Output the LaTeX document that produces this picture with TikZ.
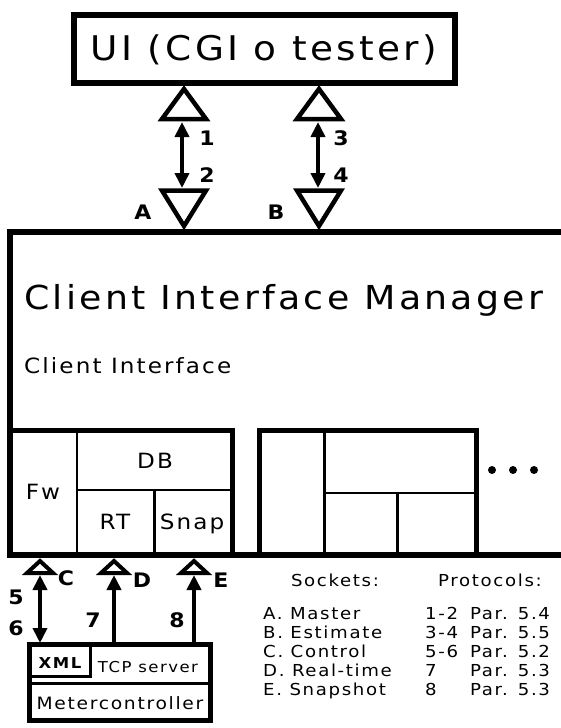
\documentclass[tikz,border=0pt]{standalone}
\usepackage{fontspec}
\setmainfont[FakeStretch=1.1,LetterSpace=10]{DejaVu Sans}
\usetikzlibrary{arrows.meta}
\newcommand\schrift[1]{\fontsize{#1}{#1}\selectfont}

\begin{document}
\begin{tikzpicture}[x=1pt,y=-1pt,
  rahmen/.style={line width=6pt,line join=miter},
  kasten/.style={line width=5pt},
  teil/.style={line width=2.5pt},
  sock/.style={line width=4.5pt,line join=miter},
  link/.style={line width=4.5pt},
  >={Triangle[length=15pt,width=14pt]},
  txt/.style={inner sep=0,anchor=base},
  lbl/.style={inner sep=0,anchor=base,font=\schrift{20}\bfseries},
  leg/.style={inner sep=0,anchor=base west,font=\schrift{16.5}}]
  \useasboundingbox (0,0) rectangle (561,728);
  % UI oben
  \draw[rahmen] (74,15) rectangle (455,83);
  \node[txt,font=\schrift{34}] (ui) at (264,60.5) {UI (CGI o tester)};
  % Sockets A und B
  \foreach \x in {184,319} {
    \draw[sock] (\x-22,119) -- (\x,89) -- (\x+22,119) -- cycle;
    \draw[sock] (\x-22,190.5) -- (\x,226) -- (\x+22,190.5) -- cycle;
  }
  \coordinate (a1) at (182,122);
  \coordinate (a2) at (182,188);
  \coordinate (b1) at (318,122);
  \coordinate (b2) at (318,188);
  \draw[link,<->] (a1) -- (a2);
  \draw[link,<->] (b1) -- (b2);
  \node[lbl] (n1) at (207,145) {1};
  \node[lbl] (n2) at (207,182) {2};
  \node[lbl] (n3) at (341,145) {3};
  \node[lbl] (n4) at (341,182) {4};
  \node[lbl] (sA) at (143,219) {A};
  \node[lbl] (sB) at (276,219) {B};
  % Client Interface Manager
  \draw[rahmen] (561,232) -- (10,232) -- (10,555) -- (561,555);
  \node[txt,anchor=base west,font=\schrift{33}] (cim) at (24,309) {Client Interface Manager};
  \node[txt,anchor=base west,font=\schrift{21}] (ci) at (24,373.5) {Client Interface};
  % erster Client
  \draw[kasten] (10,430.5) rectangle (232.5,555);
  \draw[teil] (77,430.5) -- (77,555) (77,490) -- (232.5,490) (154.5,490) -- (154.5,555);
  \node[txt,font=\schrift{21}] (db) at (155,468.6) {DB};
  \node[txt,font=\schrift{21}] (fw) at (43,499.6) {Fw};
  \node[txt,font=\schrift{21}] (rt) at (115,529.6) {RT};
  \node[txt,font=\schrift{21}] (snap) at (192,529.6) {Snap};
  % zweiter Client
  \draw[kasten] (259,430.5) rectangle (476,555);
  \draw[teil] (324.5,430.5) -- (324.5,555) (324.5,493) -- (476,493) (397.5,493) -- (397.5,555);
  \foreach \x in {492,513,534}
    \fill (\x,470) circle[radius=4pt];
  % Sockets C, D, E
  \foreach \x in {40,114,194}
    \draw[sock,line width=4pt] (\x-13,573) -- (\x,561) -- (\x+13,573) -- cycle;
  \coordinate (c1) at (40,575);
  \coordinate (c2) at (40,643);
  \coordinate (d1) at (114,575);
  \coordinate (d2) at (114,643);
  \coordinate (e1) at (194,575);
  \coordinate (e2) at (194,643);
  \draw[link,<->] (c1) -- (c2);
  \draw[link,->] (d2) -- (d1);
  \draw[link,->] (e2) -- (e1);
  \node[lbl] (sC) at (66,585) {C};
  \node[lbl] (sD) at (142,587) {D};
  \node[lbl] (sE) at (221,587) {E};
  \node[lbl] (n5) at (16,604) {5};
  \node[lbl] (n6) at (16,635) {6};
  \node[lbl] (n7) at (93,627) {7};
  \node[lbl] (n8) at (177,627) {8};
  % Metercontroller
  \draw[kasten] (29.5,644.5) rectangle (210.5,720.5);
  \draw[line width=3.5pt] (29.5,644.5) rectangle (90.5,676.5);
  \draw[line width=3.5pt] (29.5,683.5) -- (210.5,683.5);
  \node[txt,font=\schrift{15}\bfseries] (xml) at (60,668.5) {XML};
  \node[txt,font=\schrift{15}] (tcp) at (148,672.5) {TCP server};
  \node[txt,font=\schrift{17}] (mc) at (120,709) {Metercontroller};
  % Legende
  \node[txt,font=\schrift{16.5}] (sockets) at (335,586) {Sockets:};
  \node[txt,font=\schrift{16.5}] (protocols) at (490,586) {Protocols:};
  \foreach \y/\s/\n/\p [count=\i] in {619/A. Master/1-2/5.4, 638/B. Estimate/3-4/5.5,
      657/C. Control/5-6/5.2, 676/D. Real-time/7/5.3, 695/E. Snapshot/8/5.3} {
    \node[leg] (s\i) at (263,\y) {\s};
    \node[leg] (p\i) at (425,\y) {\n};
    \node[leg] (q\i) at (470,\y) {Par. \p};
  }
\end{tikzpicture}
\end{document}
